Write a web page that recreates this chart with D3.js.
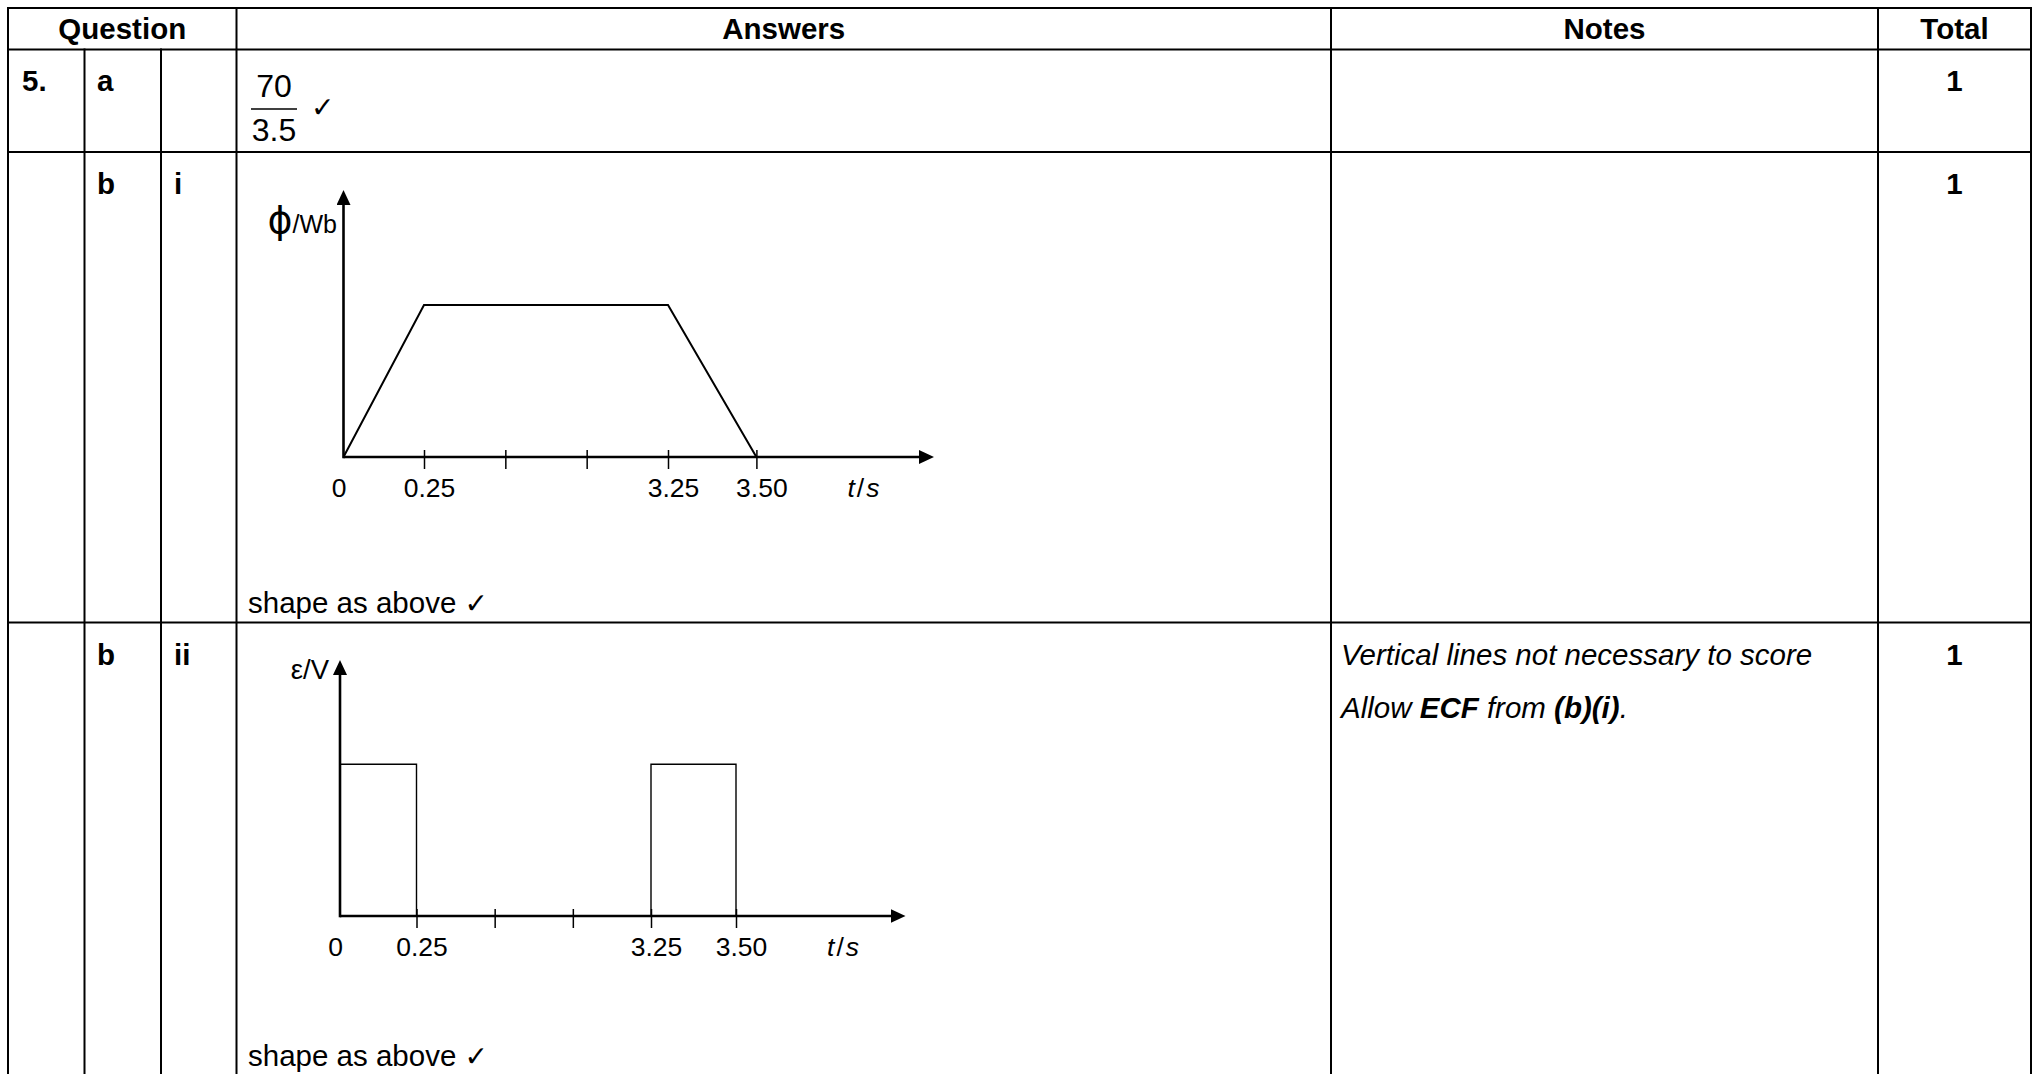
<!DOCTYPE html>
<html>
<head>
<meta charset="utf-8">
<script src="https://cdn.jsdelivr.net/npm/d3@7"></script>
<style>
  html, body { margin: 0; padding: 0; background: #fff; }
  svg { display: block; }
</style>
</head>
<body>
<div id="chart"></div>
<script>
// ---- data ----
const headers = ["Question", "Answers", "Notes", "Total"];
const questionNo = ["5.", "", ""];
const parts = ["a", "b", "b"];
const subParts = ["", "i", "ii"];
const totals = ["1", "1", "1"];
const answerCaptions = ["", "shape as above", "shape as above"];
const fractionNum = "70";
const fractionDen = "3.5";
const notesLine1 = "Vertical lines not necessary to score";
const notesLine2 = [["Allow ", "normal"], ["ECF", "bold"], [" from ", "normal"], ["(b)(i)", "bold"], [".", "normal"]];

// graph (i): flux against time
const fluxTimes = [0, 0.25, 3.25, 3.5];
const fluxValues = [0, 1, 1, 0];
// graph (ii): emf pulses [start, end] and their level
const emfPulses = [[0, 0.25], [3.25, 3.5]];
const emfLevel = 1;
// shared time axis (broken between 0.25 and 3.25)
const breakTimes = [0, 0.25, 3.25, 3.5];
const tickTimes = [0, 0.25, 1.25, 2.25, 3.25, 3.5];
const tickLabels = ["0", "0.25", "", "", "3.25", "3.50"];

// ---- layout ----
const W = 2038, H = 1074;
const FONT = "'Liberation Sans', Arial, Helvetica, sans-serif";
const SYMFONT = "'DejaVu Sans', sans-serif";
const FS = 29.5;
const colX = [8, 84.5, 161, 236.5, 1331, 1878, 2031];
const rowY = [8, 49.4, 152, 622.5, H + 2];

const svg = d3.select("#chart").append("svg")
    .attr("width", W).attr("height", H)
    .attr("font-family", FONT);

svg.append("rect").attr("width", W).attr("height", H).attr("fill", "#fff");

const defs = svg.append("defs");
defs.append("marker")
    .attr("id", "arrow")
    .attr("viewBox", "0 0 15 14")
    .attr("refX", 7).attr("refY", 7)
    .attr("markerWidth", 15).attr("markerHeight", 14)
    .attr("markerUnits", "userSpaceOnUse")
    .attr("orient", "auto")
    .append("path").attr("d", "M0,0 L15,7 L0,14 Z").attr("fill", "#000");

// ---- table grid ----
const grid = svg.append("g").attr("stroke", "#000").attr("stroke-width", 2);
rowY.slice(0, 4).forEach(y => {
    grid.append("line").attr("x1", colX[0] - 1).attr("x2", colX[6] + 1).attr("y1", y).attr("y2", y);
});
colX.forEach((x, i) => {
    const top = (i === 1 || i === 2) ? rowY[1] : rowY[0];
    grid.append("line").attr("x1", x).attr("x2", x).attr("y1", top - 1).attr("y2", H);
});

// header
const headerCenters = [(colX[0] + colX[3]) / 2, (colX[3] + colX[4]) / 2, (colX[4] + colX[5]) / 2, (colX[5] + colX[6]) / 2];
svg.append("g").selectAll("text")
    .data(headers)
    .join("text")
    .attr("x", (d, i) => headerCenters[i])
    .attr("y", rowY[0] + 31)
    .attr("text-anchor", "middle")
    .attr("font-weight", "bold")
    .attr("font-size", FS)
    .text(d => d);

// row labels + totals
const rowTops = rowY.slice(1, 4);
const labels = svg.append("g").attr("font-weight", "bold").attr("font-size", FS);
rowTops.forEach((top, i) => {
    const base = top + 42;
    labels.append("text").attr("x", 22).attr("y", base).text(questionNo[i]);
    labels.append("text").attr("x", 97).attr("y", base).text(parts[i]);
    labels.append("text").attr("x", 174).attr("y", base).text(subParts[i]);
    labels.append("text").attr("x", headerCenters[3]).attr("y", base)
        .attr("text-anchor", "middle").text(totals[i]);
});

// answer (a): fraction with tick
const frac = svg.append("g").attr("font-size", 32);
frac.append("text").attr("x", 274).attr("y", 97).attr("text-anchor", "middle").text(fractionNum);
frac.append("line").attr("x1", 251).attr("x2", 297).attr("y1", 109).attr("y2", 109)
    .attr("stroke", "#000").attr("stroke-width", 1.5);
frac.append("text").attr("x", 274).attr("y", 141).attr("text-anchor", "middle").text(fractionDen);
frac.append("text").attr("x", 311).attr("y", 117).attr("font-family", SYMFONT)
    .attr("font-size", 28).text("\u2713");

// captions under the graphs
const captionY = [0, 613, 1066];
answerCaptions.forEach((c, i) => {
    if (!c) return;
    const t = svg.append("text").attr("x", 248).attr("y", captionY[i]).attr("font-size", FS);
    t.append("tspan").text(c + " ");
    t.append("tspan").attr("font-family", SYMFONT).attr("font-size", 28).text("\u2713");
});

// notes
const notes = svg.append("g").attr("font-size", FS).attr("font-style", "italic");
notes.append("text").attr("x", 1341).attr("y", 665).text(notesLine1);
notes.append("text").attr("x", 1341).attr("y", 718)
    .selectAll("tspan").data(notesLine2).join("tspan")
    .attr("font-weight", d => d[1])
    .text(d => d[0]);

// ---- graphs ----
function drawGraph(cfg) {
    const g = svg.append("g");

    const x = d3.scaleLinear().domain(breakTimes).range(cfg.xRange);
    const y = d3.scaleLinear().domain([0, 1]).range([cfg.y0, cfg.yTop]);

    // data lines
    cfg.draw(g, x, y);

    // axes lines with arrowheads
    g.append("line")
        .attr("x1", x(0)).attr("y1", y(0))
        .attr("x2", cfg.xEnd - 8).attr("y2", y(0))
        .attr("stroke", "#000").attr("stroke-width", 2.6)
        .attr("marker-end", "url(#arrow)");
    g.append("line")
        .attr("x1", x(0)).attr("y1", y(0) + 1.3)
        .attr("x2", x(0)).attr("y2", cfg.yEnd + 8)
        .attr("stroke", "#000").attr("stroke-width", 2.6)
        .attr("marker-end", "url(#arrow)");

    // ticks + labels via d3 axis
    const xAxis = d3.axisBottom(x)
        .tickValues(tickTimes)
        .tickFormat((d, i) => tickLabels[i])
        .tickSize(12);
    const ax = g.append("g")
        .attr("transform", `translate(0,${cfg.y0})`)
        .call(xAxis)
        .attr("font-family", FONT)
        .attr("font-size", 26.5);
    ax.select(".domain").remove();
    ax.selectAll(".tick line")
        .attr("y1", -7).attr("stroke", "#000").attr("stroke-width", 1.5)
        .filter(d => d === 0).remove();
    ax.selectAll(".tick text")
        .attr("y", 40).attr("dy", null)
        .attr("dx", d => d === 0 ? -5 : 5)
        .attr("fill", "#000");

    // t/s label
    g.append("text")
        .attr("x", x(3.5) + 107).attr("y", cfg.y0 + 40)
        .attr("text-anchor", "middle").attr("font-size", 26.5)
        .call(t => {
            t.append("tspan").attr("font-style", "italic").text("t");
            t.append("tspan").attr("dx", 2).text("/");
            t.append("tspan").attr("dx", 2).attr("font-style", "italic").text("s");
        });

    cfg.label(g, x, y);
}

// (b)(i) flux graph
drawGraph({
    xRange: [343.5, 424, 668, 756.4],
    y0: 457, yTop: 305, xEnd: 934, yEnd: 190,
    draw: (g, x, y) => {
        const line = d3.line().x(d => x(d[0])).y(d => y(d[1]));
        g.append("path")
            .datum(fluxTimes.map((t, i) => [t, fluxValues[i]]))
            .attr("d", line)
            .attr("fill", "none").attr("stroke", "#000").attr("stroke-width", 2);
    },
    label: (g) => {
        g.append("text").attr("x", 337).attr("y", 233).attr("text-anchor", "end")
            .call(t => {
                t.append("tspan").attr("font-family", SYMFONT).attr("font-size", 38).text("\u03d5");
                t.append("tspan").attr("font-size", 25).text("/Wb");
            });
    }
});

// (b)(ii) emf graph
drawGraph({
    xRange: [340, 416.5, 651, 736],
    y0: 916, yTop: 764.3, xEnd: 905.5, yEnd: 660,
    draw: (g, x, y) => {
        const line = d3.line().x(d => x(d[0])).y(d => y(d[1]));
        g.selectAll("path.pulse")
            .data(emfPulses)
            .join("path")
            .attr("class", "pulse")
            .attr("d", p => line([[p[0], 0], [p[0], emfLevel], [p[1], emfLevel], [p[1], 0]]))
            .attr("fill", "none").attr("stroke", "#000").attr("stroke-width", 1.4);
    },
    label: (g) => {
        g.append("text").attr("x", 329).attr("y", 679).attr("text-anchor", "end")
            .attr("font-size", 27.5).text("\u03b5/V");
    }
});
</script>
</body>
</html>
